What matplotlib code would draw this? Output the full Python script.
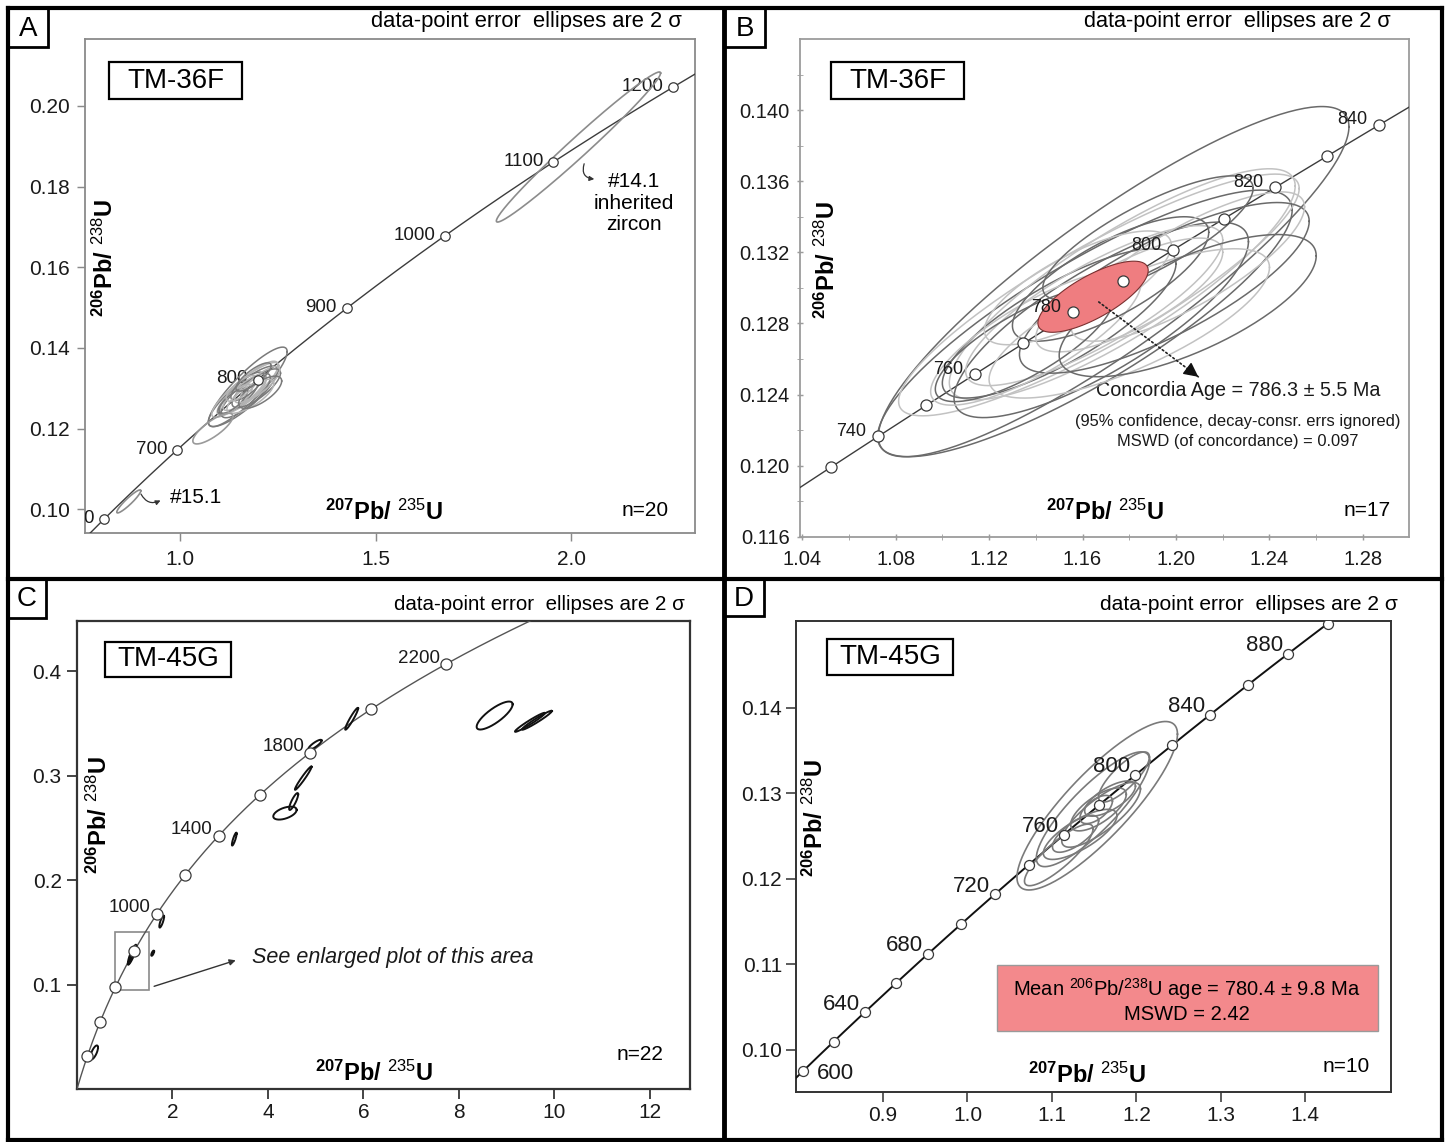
import numpy as np
import matplotlib.pyplot as plt
from matplotlib.patches import Rectangle
from matplotlib.lines import Line2D

plt.rcParams['font.family'] = ['Liberation Sans', 'DejaVu Sans']
plt.rcParams['mathtext.fontset'] = 'custom'
plt.rcParams['mathtext.rm'] = 'Liberation Sans'
plt.rcParams['mathtext.bf'] = 'Liberation Sans:bold'
plt.rcParams['mathtext.it'] = 'Liberation Sans:italic'

W, H = 1447, 1142

# decay constants (1/yr) for the concordia curve
lam238 = 1.55125e-10
lam235 = 9.8485e-10

# ---------------- data ----------------
# concordia age marks (Ma)
a_ages = [600, 700, 800, 900, 1000, 1100, 1200]
a_labels = [600, 700, 800, 900, 1000, 1100, 1200]
b_ages = [730, 740, 750, 760, 770, 780, 790, 800, 810, 820, 830, 840, 850]
b_labels = [740, 760, 780, 800, 820, 840]
c_ages = [200, 400, 600, 800, 1000, 1200, 1400, 1600, 1800, 2000, 2200]
c_labels = [1000, 1400, 1800, 2200]
d_ages = [600, 620, 640, 660, 680, 700, 720, 740, 760, 780, 800, 820, 840, 860, 880, 900]
d_labels = [640, 680, 720, 760, 800, 840, 880]
d_label_low = [600]

# TM-36F analyses: 207Pb/235U, 2s, 206Pb/238U, 2s, rho
tm36_x = [1.1733, 1.161, 1.167, 1.177, 1.168, 1.150, 1.165, 1.195, 1.140, 1.172, 1.205, 1.135, 1.180, 1.180, 1.205, 1.158, 1.188]
tm36_sx = [0.1007, 0.0887, 0.0857, 0.074, 0.063, 0.050, 0.055, 0.062, 0.045, 0.042, 0.050, 0.038, 0.040, 0.060, 0.055, 0.040, 0.045]
tm36_y = [0.13035, 0.1280, 0.1296, 0.1302, 0.1282, 0.1280, 0.1290, 0.1300, 0.1272, 0.1305, 0.1312, 0.1268, 0.1296, 0.1280, 0.1290, 0.1300, 0.1328]
tm36_sy = [0.00985, 0.0075, 0.0068, 0.0065, 0.0055, 0.0042, 0.0045, 0.0048, 0.0038, 0.0035, 0.0042, 0.0032, 0.0032, 0.0042, 0.0040, 0.0032, 0.0035]
tm36_rho = [0.885, 0.85, 0.88, 0.85, 0.80, 0.80, 0.82, 0.78, 0.80, 0.75, 0.80, 0.78, 0.75, 0.75, 0.70, 0.75, 0.80]
tm36_tone = ['d', 'd', 'l', 'l', 'd', 'd', 'l', 'd', 'l', 'd', 'l', 'd', 'l', 'l', 'd', 'l', 'd']

# TM-36F analyses shown only in panel A (#14.1, #15.1, one more)
a_extra_x = [2.019, 0.869, 1.084]
a_extra_sx = [0.21, 0.0307, 0.0512]
a_extra_y = [0.1898, 0.10195, 0.1200]
a_extra_sy = [0.0186, 0.00285, 0.0038]
a_extra_rho = [0.985, 0.93, 0.80]

# concordia age ellipse (panel B)
cage_x, cage_sx, cage_y, cage_sy, cage_rho = 1.1645, 0.0236, 0.1295, 0.00200, 0.74

# TM-45G concordant group (panel D, also in C)
tm45_x = [1.1536, 1.1486, 1.1582, 1.1551, 1.1524, 1.1334, 1.1279, 1.1688, 1.1853, 1.1081]
tm45_sx = [0.0950, 0.0671, 0.0466, 0.0329, 0.0192, 0.0436, 0.0273, 0.0301, 0.0301, 0.0406]
tm45_y = [0.12854, 0.12813, 0.12748, 0.12811, 0.12810, 0.12519, 0.12526, 0.12938, 0.13190, 0.12279]
tm45_sy = [0.00985, 0.00671, 0.00379, 0.00251, 0.00165, 0.00293, 0.00216, 0.00206, 0.00293, 0.0036]
tm45_rho = [0.85, 0.85, 0.80, 0.70, 0.60, 0.75, 0.70, 0.70, 0.80, 0.85]

# TM-45G other analyses (panel C)
c_x = [0.36, 1.774, 1.585, 3.294, 4.356, 4.538, 4.739, 4.984, 5.753, 8.748, 9.487, 9.634]
c_sx = [0.08, 0.05, 0.03, 0.05, 0.245, 0.095, 0.175, 0.14, 0.136, 0.377, 0.314, 0.314]
c_y = [0.035, 0.1603, 0.130, 0.2392, 0.2641, 0.2752, 0.2976, 0.3295, 0.3544, 0.3575, 0.3510, 0.3530]
c_sy = [0.0067, 0.0058, 0.0025, 0.0062, 0.0062, 0.0081, 0.0112, 0.0048, 0.0105, 0.0134, 0.0091, 0.0091]
c_rho = [0.7, 0.8, 0.7, 0.85, 0.5, 0.85, 0.97, 0.85, 0.95, 0.8, 0.97, 0.97]

# axis ticks
a_xticks = [1.0, 1.5, 2.0]
a_xticklabels = ['1.0', '1.5', '2.0']
a_yticks = [0.10, 0.12, 0.14, 0.16, 0.18, 0.20]
a_yticklabels = ['0.10', '0.12', '0.14', '0.16', '0.18', '0.20']
b_xticks = [1.04, 1.08, 1.12, 1.16, 1.20, 1.24, 1.28]
b_xticklabels = ['1.04', '1.08', '1.12', '1.16', '1.20', '1.24', '1.28']
b_xminor = [1.06, 1.10, 1.14, 1.18, 1.22, 1.26]
b_yticks = [0.116, 0.120, 0.124, 0.128, 0.132, 0.136, 0.140]
b_yticklabels = ['0.116', '0.120', '0.124', '0.128', '0.132', '0.136', '0.140']
b_yminor = [0.118, 0.122, 0.126, 0.130, 0.134, 0.138, 0.142]
c_xticks = [2, 4, 6, 8, 10, 12]
c_xticklabels = ['2', '4', '6', '8', '10', '12']
c_yticks = [0.1, 0.2, 0.3, 0.4]
c_yticklabels = ['0.1', '0.2', '0.3', '0.4']
d_xticks = [0.9, 1.0, 1.1, 1.2, 1.3, 1.4]
d_xticklabels = ['0.9', '1.0', '1.1', '1.2', '1.3', '1.4']
d_yticks = [0.10, 0.11, 0.12, 0.13, 0.14]
d_yticklabels = ['0.10', '0.11', '0.12', '0.13', '0.14']

a_lim = ((0.757, 2.317), (0.09405, 0.2165))
b_lim = ((1.0391, 1.2997), (0.116, 0.144))
c_lim = ((0.0, 12.84), (0.0, 0.448))
d_lim = ((0.797, 1.5014), (0.09509, 0.15012))


# ---------------- helpers ----------------
def conc(ages):
    t = np.asarray(ages, dtype=float) * 1e6
    return np.exp(lam235 * t) - 1, np.exp(lam238 * t) - 1


def ellipse(x, sx, y, sy, rho):
    th = np.linspace(0, 2 * np.pi, 241)
    ex = x + sx * np.cos(th)
    ey = y + sy * (rho * np.cos(th) + np.sqrt(1 - rho ** 2) * np.sin(th))
    return ex, ey


fig = plt.figure(figsize=(W / 100, H / 100), dpi=100)


def px_axes(l, t, r, b):
    return fig.add_axes([l / W, 1 - b / H, (r - l) / W, (b - t) / H])


def px_box(l, t, r, b, lw=1.6, fc=None, ec='black'):
    fig.add_artist(Rectangle((l / W, 1 - b / H), (r - l) / W, (b - t) / H,
                             transform=fig.transFigure, fill=fc is not None,
                             fc=fc if fc else 'none', ec=ec, lw=lw))


def px_text(x, y, s, **kw):
    fig.text(x / W, 1 - y / H, s, **kw)


def px_line(x0, y0, x1, y1, lw=3.0):
    fig.add_artist(Line2D([x0 / W, x1 / W], [1 - y0 / H, 1 - y1 / H],
                          transform=fig.transFigure, color='black', lw=lw,
                          solid_capstyle='projecting'))


def style_axes(ax, lims, spine_c, lw, size, xt, xtl, yt, ytl, tdir, tlen, xpad, ypad):
    ax.set_xlim(*lims[0])
    ax.set_ylim(*lims[1])
    for s in ax.spines.values():
        s.set_color(spine_c)
        s.set_linewidth(lw)
    ax.set_xticks(xt)
    ax.set_xticklabels(xtl)
    ax.set_yticks(yt)
    ax.set_yticklabels(ytl)
    ax.tick_params(axis='both', which='major', direction=tdir, length=tlen,
                   width=lw * 0.8, color=spine_c, labelsize=size,
                   labelcolor='#1a1a1a')
    ax.tick_params(axis='x', pad=xpad)
    ax.tick_params(axis='y', pad=ypad)


def concordia(ax, ages, labels, ms, lc, llw, fs, dx, dy, lz=7):
    t = np.linspace(0, 4.6e9, 4000)
    ax.plot(np.exp(lam235 * t) - 1, np.exp(lam238 * t) - 1, color=lc, lw=llw, zorder=3)
    mx, my = conc(ages)
    ax.plot(mx, my, 'o', ms=ms, mfc='white', mec='#3a3a3a', mew=0.9, zorder=6)
    lx, ly = conc(labels)
    for age, x, y in zip(labels, lx, ly):
        ax.annotate(str(age), (x, y), xytext=(dx, dy), textcoords='offset points',
                    ha='right', va='center', fontsize=fs, color='#1a1a1a',
                    annotation_clip=False, clip_on=True, zorder=lz)


def draw_ells(ax, xs, sxs, ys, sys_, rhos, colors, lw, z=4):
    for x, sx, y, sy, r, c in zip(xs, sxs, ys, sys_, rhos, colors):
        ex, ey = ellipse(x, sx, y, sy, r)
        ax.plot(ex, ey, color=c, lw=lw, zorder=z)


ylab = r'${}^{\mathbf{206}}\mathbf{Pb/}\ {}^{238}\mathbf{U}$'
xlab = r'${}^{\mathbf{207}}\mathbf{Pb/}\ {}^{235}\mathbf{U}$'
tone = {'d': '#6a6a6a', 'l': '#c2c2c2'}
tone_a = {'d': '#7a7a7a', 'l': '#b4b4b4'}
note = 'data-point error  ellipses are 2 \u03c3'

# ---------------- panel A ----------------
axA = px_axes(85, 39.3, 695, 533.3)
style_axes(axA, a_lim, '#8a8a8a', 1.3, 15, a_xticks, a_xticklabels,
           a_yticks, a_yticklabels, 'out', 6, 6, 5)
concordia(axA, a_ages, a_labels, 6.8, '#3c3c3c', 1.0, 13.5, -7, 0.5, lz=3.5)
draw_ells(axA, tm36_x, tm36_sx, tm36_y, tm36_sy, tm36_rho,
          [tone_a[k] for k in tm36_tone], 1.1)
draw_ells(axA, a_extra_x, a_extra_sx, a_extra_y, a_extra_sy, a_extra_rho,
          ['#8c8c8c', '#8c8c8c', '#9a9a9a'], 1.2)
axA.annotate('', xy=(2.0665, 0.1818), xytext=(2.0358, 0.1863),
             arrowprops=dict(arrowstyle='-|>', color='#333', lw=0.9,
                             mutation_scale=7, connectionstyle='arc3,rad=0.7'))
axA.annotate('', xy=(0.9565, 0.1025), xytext=(0.897, 0.1044),
             arrowprops=dict(arrowstyle='-|>', color='#333', lw=0.9,
                             mutation_scale=7, connectionstyle='arc3,rad=0.55'))
px_text(170, 497.5, '#15.1', ha='left', va='center', fontsize=15)
px_text(634, 203, '#14.1\ninherited\nzircon', ha='center', va='center',
        fontsize=15, linespacing=1.15)
px_text(682, 22, note, ha='right', va='center', fontsize=15.8)
px_text(645, 511, 'n=20', ha='center', va='center', fontsize=15)
px_text(384, 512, xlab, ha='center', va='center', fontsize=17)
px_text(105, 258, ylab, ha='center', va='center', fontsize=17, rotation=90)
px_box(109, 62, 242, 99)
px_text(175.5, 81, 'TM-36F', ha='center', va='center', fontsize=20)

# ---------------- panel B ----------------
axB = px_axes(800, 39, 1409, 536.7)
style_axes(axB, b_lim, '#9c9c9c', 1.3, 14.5, b_xticks, b_xticklabels,
           b_yticks, b_yticklabels, 'inout', 5, 7, 5)
axB.set_xticks(b_xminor, minor=True)
axB.set_yticks(b_yminor, minor=True)
axB.tick_params(which='minor', direction='inout', length=4, color='#9c9c9c')
concordia(axB, b_ages, b_labels, 8, '#3c3c3c', 1.0, 13, -8.5, 3.5, lz=7)
draw_ells(axB, tm36_x, tm36_sx, tm36_y, tm36_sy, tm36_rho,
          [tone[k] for k in tm36_tone], 1.1)
rx, ry = ellipse(cage_x, cage_sx, cage_y, cage_sy, cage_rho)
axB.fill(rx, ry, fc='#ef7d80', ec='#7a3030', lw=0.8, zorder=5)
axB.annotate('', xy=(1.2105, 0.1249), xytext=(1.166, 0.1293),
             arrowprops=dict(arrowstyle='-', color='#222', lw=1.2, ls=':'), zorder=8)
axB.annotate('', xy=(1.2105, 0.1249), xytext=(1.2040, 0.12555),
             arrowprops=dict(arrowstyle='-|>', color='#111', lw=1.0,
                             mutation_scale=22), zorder=8)
axB.text(1.2265, 0.12425, 'Concordia Age = 786.3 \u00b1 5.5 Ma', ha='center',
         va='center', fontsize=14.2, color='#1a1a1a')
axB.text(1.2265, 0.12247, '(95% confidence, decay-consr. errs ignored)',
         ha='center', va='center', fontsize=11.9, color='#1a1a1a')
axB.text(1.2265, 0.12134, 'MSWD (of concordance) = 0.097', ha='center',
         va='center', fontsize=11.9, color='#1a1a1a')
px_text(1391, 22, note, ha='right', va='center', fontsize=15.6)
px_text(1367, 510, 'n=17', ha='center', va='center', fontsize=15)
px_text(1105, 512, xlab, ha='center', va='center', fontsize=17)
px_text(827, 260, ylab, ha='center', va='center', fontsize=17, rotation=90)
px_box(831, 62, 964, 99)
px_text(897.5, 81, 'TM-36F', ha='center', va='center', fontsize=20)

# ---------------- panel C ----------------
axC = px_axes(77, 621, 690, 1089)
style_axes(axC, c_lim, '#333333', 1.6, 15, c_xticks, c_xticklabels,
           c_yticks, c_yticklabels, 'out', 7, 3, 4)
concordia(axC, c_ages, c_labels, 8, '#555555', 1.0, 13.5, -4.5, 4.3)
draw_ells(axC, c_x, c_sx, c_y, c_sy, c_rho, ['#111'] * len(c_x), 1.4)
draw_ells(axC, tm45_x, tm45_sx, tm45_y, tm45_sy, tm45_rho, ['#111'] * len(tm45_x), 1.0)
axC.add_patch(Rectangle((d_lim[0][0], d_lim[1][0]), d_lim[0][1] - d_lim[0][0],
                        d_lim[1][1] - d_lim[1][0], fill=False, ec='#8a8a8a',
                        lw=1.2, zorder=2))
axC.annotate('', xy=(3.38, 0.124), xytext=(1.56, 0.0975),
             arrowprops=dict(arrowstyle='-|>', color='#333', lw=1.0, mutation_scale=9))
axC.text(3.66, 0.1255, 'See enlarged plot of this area', ha='left', va='center',
         fontsize=15.5, style='italic', color='#1a1a1a')
px_text(685, 605, note, ha='right', va='center', fontsize=14.8)
px_text(640, 1055, 'n=22', ha='center', va='center', fontsize=15)
px_text(374, 1073, xlab, ha='center', va='center', fontsize=17)
px_text(99, 815, ylab, ha='center', va='center', fontsize=17, rotation=90)
px_box(105, 642, 231, 677)
px_text(168, 659.5, 'TM-45G', ha='center', va='center', fontsize=20)

# ---------------- panel D ----------------
axD = px_axes(796, 621.2, 1391, 1091.8)
style_axes(axD, d_lim, '#333333', 1.4, 15, d_xticks, d_xticklabels,
           d_yticks, d_yticklabels, 'out', 7, 3, 3)
concordia(axD, d_ages, d_labels, 7.2, '#111111', 1.4, 16, -3.5, 6)
lx, ly = conc(d_label_low)
for age, x, y in zip(d_label_low, lx, ly):
    axD.annotate(str(age), (x, y), xytext=(10, -2), textcoords='offset points',
                 ha='left', va='center', fontsize=16, color='#1a1a1a')
draw_ells(axD, tm45_x, tm45_sx, tm45_y, tm45_sy, tm45_rho, ['#7a7a7a'] * len(tm45_x), 1.2)
px_box(997, 965, 1378, 1031, lw=1.0, fc='#f3898c', ec='#9a9a9a')
px_text(1187, 989, r'Mean $^{206}$Pb/$^{238}$U age = 780.4 $\pm$ 9.8 Ma',
        ha='center', va='center', fontsize=14.5)
px_text(1187, 1014, 'MSWD = 2.42', ha='center', va='center', fontsize=14.5)
px_text(1398, 605, note, ha='right', va='center', fontsize=15.1)
px_text(1346, 1067, 'n=10', ha='center', va='center', fontsize=15)
px_text(1087, 1075, xlab, ha='center', va='center', fontsize=17)
px_text(815, 818, ylab, ha='center', va='center', fontsize=17, rotation=90)
px_box(827, 639, 953, 675)
px_text(890, 657, 'TM-45G', ha='center', va='center', fontsize=20)

# ---------------- frame & panel letters ----------------
px_line(8, 8, 1442, 8)
px_line(8, 1140, 1442, 1140)
px_line(8, 8, 8, 1140)
px_line(1442, 8, 1442, 1140)
px_line(724, 8, 724, 1140, lw=3.5)
px_line(8, 579, 1442, 579, lw=3.0)
for (l, t, r, b), s in zip([(8, 8, 48, 47), (724, 8, 765, 47), (8, 579, 46, 618), (724, 579, 764, 616)],
                           ['A', 'B', 'C', 'D']):
    px_box(l, t, r, b, lw=2.0)
    px_text((l + r) / 2, (t + b) / 2 + 1, s, ha='center', va='center', fontsize=20)

fig.savefig('out.png', dpi=100)
